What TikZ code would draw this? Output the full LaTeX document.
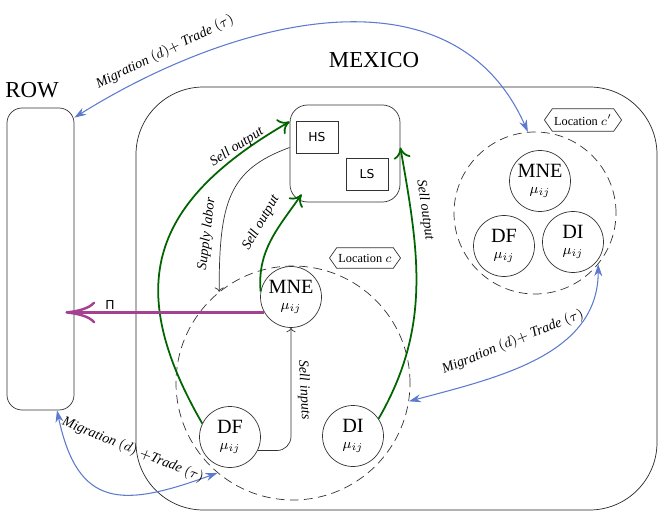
\documentclass[tikz,border=0pt]{standalone}
\usepackage{fontspec}
\setmainfont{Liberation Serif}
\newfontfamily\labelsf{DejaVu Sans}
\usetikzlibrary{calc,positioning,arrows.meta,shapes.symbols}
\definecolor{tradeblue}{RGB}{92,122,206}
\definecolor{outputgreen}{RGB}{0,100,0}
\definecolor{profitpurple}{RGB}{165,65,145}

\begin{document}
\begin{tikzpicture}

\tikzset{bigtext/.style={font=\fontsize{13}{15}\selectfont,inner sep=0pt},
rowbox/.style={draw=black!80,rounded corners=0.3cm,minimum width=1.34cm,minimum height=6.04cm},
mexbox/.style={draw=black!85,rounded corners=1.35cm,minimum width=10.42cm,minimum height=8.46cm},
marketbox/.style={draw=black!80,rounded corners=0.35cm,minimum width=2.2cm,minimum height=1.94cm},
skillbox/.style={draw=black!80,font=\labelsf\fontsize{7}{8}\selectfont,inner sep=0pt,minimum width=0.84cm,minimum height=0.64cm},
locnode/.style={draw=black!80,dash pattern=on 5pt off 3pt,shape=circle,inner sep=0pt},
loctag/.style={draw=black!80,shape=signal,signal to=east and west,signal pointer angle=110,font=\fontsize{7}{8}\selectfont,inner xsep=1pt,inner ysep=3.5pt},
firmnode/.style={draw=black!80,fill=white,shape=circle,inner sep=1pt,minimum size=1.22cm,align=center,font=\fontsize{11.5}{12}\selectfont},
flowlabel/.style={font=\fontsize{8}{9}\selectfont\itshape,inner sep=1pt},
sellflow/.style={draw=outputgreen,line width=1pt,-{To[length=2.2mm,width=3.4mm]}},
trade/.style={draw=tradeblue,line width=0.6pt,{Stealth[length=2.4mm,width=1.6mm]}-{Stealth[length=2.4mm,width=1.6mm]}},
profit/.style={draw=profitpurple,line width=1.4pt,-{To[length=6mm,width=4.4mm]}}}

\useasboundingbox (0,0) rectangle (13.16,10.24);

% Countries
\node[rowbox] (row) at (0.81,5.06) {};
\node[bigtext] (rowlabel) at (0.64,8.44) {ROW};
\node[mexbox] (mex) at (7.93,4.27) {};
\node[bigtext] (mexlabel) at (7.48,9.04) {MEXICO};

% Labour market
\node[marketbox] (market) at (6.9,7.17) {};
\node[skillbox, below right=0.32cm and 0.12cm of market.north west] (hs) {HS};
\node[skillbox, above left=0.24cm and 0.24cm of market.south east] (ls) {LS};

% Locations
\node[locnode, minimum size=4.68cm] (locc) at (5.86,2.58) {};
\node[locnode, minimum size=3.24cm] (loccp) at (10.7,5.98) {};
\node[loctag] (tagc) at (7.3,5.08) {Location $c$};
\node[loctag] (tagcp) at (11.66,7.84) {Location $c'$};

% Firms
\foreach \name/\lab/\x/\y in {mne/MNE/5.82/4.3, df/DF/4.6/1.5, di/DI/7.06/1.52, mnep/MNE/10.8/6.62, dfp/DF/10.08/5.32, dip/DI/11.46/5.4}
  \node[firmnode] (\name) at (\x,\y) {\lab\\[-3pt]$\scriptstyle\mu_{ij}$};

% Output and inputs
\draw[sellflow] (df.154) to[out=120,in=210,looseness=1.3] ([yshift=-0.34cm]market.north west);
\draw[sellflow] (mne.170) to[out=95,in=235] ($(market.south west)+(0.24,0.16)$);
\draw[sellflow] (di.34) to[out=60,in=-80] ([yshift=0.12cm]market.east);
\draw[black!80,->] ([yshift=0.12cm]market.west) .. controls +(200:1.3) and +(90:1.8) .. (locc.129);
\draw[black!80,->,rounded corners=8pt] (df.-26) -| (mne.south);
\node[flowlabel, rotate=33] (sellA) at (4.74,7.3) {Sell output};
\node[flowlabel, rotate=60] (sellB) at (5.22,5.78) {Sell output};
\node[flowlabel, rotate=-82] (sellC) at (8.5,6.04) {Sell output};
\node[flowlabel, rotate=83] (labor) at (4.14,5.56) {Supply labor};
\node[flowlabel, rotate=-87] (inputs) at (6.08,2.44) {Sell inputs};

% Profits
\draw[profit] (mne.-150) -- ([xshift=-0.18cm]row.east |- mne.-150);
\node[font=\labelsf\fontsize{7}{8}\selectfont] (pi) at (2.2,4.14) {Π};

% Migration and trade
\draw[trade] ([yshift=-0.2cm]row.north east) to[out=32,in=114,looseness=1.05] (loccp.95);
\draw[trade] (loccp.-39) to[out=-90,in=15] (locc.-9);
\draw[trade] ([xshift=0.33cm]row.south) to[out=-78,in=200,looseness=1.5] (locc.-130);
\node[flowlabel, rotate=26] (migA) at (3.3,9.2) {Migration $(d) +$ Trade $(\tau)$};
\node[flowlabel, rotate=22] (migB) at (10.26,3.4) {Migration $(d) +$ Trade $(\tau)$};
\node[flowlabel, rotate=-22] (migC) at (2.66,1.24) {Migration $(d)$ $+$Trade $(\tau)$};

\end{tikzpicture}
\end{document}
